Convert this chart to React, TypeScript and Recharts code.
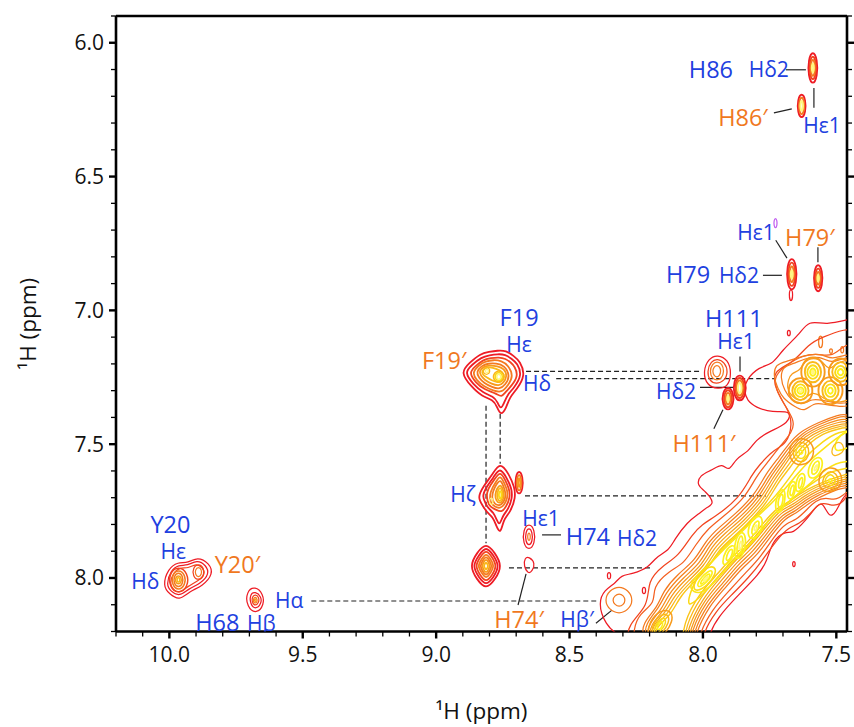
import { ScatterChart, Scatter, XAxis, YAxis, ReferenceLine } from 'recharts';

type Pt = [number, number];

const RED = '#ee1c25';
const RED2 = '#f2441f';
const ORANGE = '#f47a20';
const AMBER = '#f79a1c';
const GOLD = '#fab81a';
const YELLOW = '#fbd916';
const LEMON = '#fdf01c';
const PALE = '#fff680';
const PURPLE = '#c060f0';
const BLUE = '#2140e0';
const LABEL_ORANGE = '#f0781e';

const xTicks = [10.2, 10.1, 10.0, 9.9, 9.8, 9.7, 9.6, 9.5, 9.4, 9.3, 9.2, 9.1, 9.0, 8.9, 8.8, 8.7, 8.6, 8.5, 8.4, 8.3, 8.2, 8.1, 8.0, 7.9, 7.8, 7.7, 7.6, 7.5];
const yTicks = [5.9, 6.0, 6.1, 6.2, 6.3, 6.4, 6.5, 6.6, 6.7, 6.8, 6.9, 7.0, 7.1, 7.2, 7.3, 7.4, 7.5, 7.6, 7.7, 7.8, 7.9, 8.0, 8.1, 8.2];

// diagonal band, outermost level first
const bandOuter: Pt[] = [[8.3,8.24],[8.37,8.17],[8.392,8.092],[8.37,8.045],[8.325,8.018],[8.308,7.99],[8.264,7.985],[8.202,7.96],[8.177,7.922],[8.127,7.897],[8.108,7.858],[8.058,7.79],[8.015,7.76],[7.984,7.735],[7.955,7.722],[7.99,7.675],[8.023,7.655],[8.012,7.615],[7.965,7.597],[7.927,7.57],[7.902,7.605],[7.878,7.553],[7.828,7.528],[7.803,7.485],[7.753,7.453],[7.678,7.422],[7.668,7.372],[7.74,7.383],[7.803,7.362],[7.834,7.338],[7.846,7.3],[7.84,7.262],[7.79,7.21],[7.74,7.204],[7.703,7.148],[7.64,7.092],[7.603,7.035],[7.54,7.056],[7.44,7.03],[7.42,7.03],[7.42,7.68],[7.466,7.674],[7.503,7.761],[7.528,7.774],[7.553,7.711],[7.578,7.736],[7.615,7.786],[7.665,7.836],[7.69,7.824],[7.74,7.861],[7.759,7.936],[7.79,7.986],[7.865,8.061],[7.946,8.148],[7.977,8.211],[7.98,8.26]];
const band2: Pt[] = [[8.29,8.26],[8.283,8.173],[8.202,8.104],[8.208,8.011],[8.152,7.955],[8.09,7.917],[8.04,7.836],[8.002,7.799],[7.959,7.774],[7.865,7.705],[7.815,7.611],[7.79,7.58],[7.74,7.524],[7.684,7.499],[7.665,7.424],[7.678,7.374],[7.728,7.3],[7.74,7.225],[7.665,7.2],[7.603,7.125],[7.553,7.1],[7.466,7.069],[7.42,7.07],[7.42,7.66],[7.491,7.736],[7.528,7.724],[7.565,7.718],[7.597,7.761],[7.64,7.799],[7.678,7.811],[7.722,7.855],[7.778,7.936],[7.828,7.998],[7.89,8.061],[7.952,8.123],[8.002,8.211],[8.0,8.26]];
const band3: Pt[] = [[8.26,8.26],[8.26,8.19],[8.24,8.135],[8.177,8.092],[8.19,8.036],[8.127,7.973],[8.071,7.948],[8.027,7.874],[7.977,7.811],[7.927,7.774],[7.84,7.699],[7.803,7.624],[7.753,7.562],[7.715,7.512],[7.665,7.455],[7.653,7.412],[7.715,7.324],[7.74,7.25],[7.69,7.206],[7.628,7.168],[7.565,7.162],[7.516,7.175],[7.466,7.125],[7.42,7.125],[7.42,7.66],[7.466,7.68],[7.497,7.711],[7.54,7.699],[7.578,7.711],[7.609,7.743],[7.653,7.786],[7.684,7.792],[7.728,7.836],[7.784,7.923],[7.84,7.98],[7.902,8.048],[7.965,8.117],[8.015,8.211],[8.015,8.26]];
const band4: Pt[] = [[8.235,8.24],[8.225,8.165],[8.17,8.11],[8.15,8.05],[8.095,7.985],[8.03,7.936],[7.99,7.861],[7.94,7.811],[7.878,7.761],[7.803,7.686],[7.765,7.611],[7.715,7.549],[7.678,7.499],[7.64,7.455],[7.565,7.418],[7.503,7.393],[7.42,7.375],[7.42,7.665],[7.478,7.661],[7.522,7.68],[7.565,7.699],[7.609,7.724],[7.653,7.761],[7.69,7.774],[7.74,7.836],[7.803,7.923],[7.853,7.961],[7.915,8.036],[7.977,8.104],[8.03,8.211],[8.03,8.26]];
const band4b: Pt[] = [[8.225,8.24],[8.215,8.168],[8.165,8.113],[8.14,8.056],[8.085,7.993],[8.022,7.94],[7.982,7.868],[7.932,7.82],[7.87,7.766],[7.797,7.694],[7.757,7.62],[7.708,7.555],[7.672,7.505],[7.632,7.46],[7.562,7.425],[7.502,7.4],[7.42,7.385],[7.42,7.655],[7.477,7.653],[7.523,7.672],[7.567,7.69],[7.612,7.716],[7.656,7.753],[7.695,7.767],[7.745,7.828],[7.809,7.914],[7.859,7.953],[7.92,8.028],[7.983,8.097],[8.037,8.205],[8.037,8.26]];
const band5: Pt[] = [[8.215,8.24],[8.205,8.17],[8.155,8.12],[8.13,8.06],[8.075,8.0],[8.01,7.945],[7.975,7.875],[7.925,7.825],[7.862,7.775],[7.79,7.7],[7.75,7.625],[7.7,7.56],[7.665,7.51],[7.625,7.465],[7.56,7.432],[7.5,7.41],[7.42,7.395],[7.42,7.645],[7.475,7.645],[7.525,7.665],[7.57,7.683],[7.615,7.708],[7.66,7.745],[7.7,7.76],[7.75,7.82],[7.815,7.905],[7.865,7.945],[7.925,8.02],[7.99,8.09],[8.045,8.2],[8.045,8.26]];
const band5b: Pt[] = [[8.205,8.24],[8.197,8.172],[8.147,8.125],[8.12,8.065],[8.065,8.005],[8.002,7.95],[7.967,7.882],[7.917,7.832],[7.856,7.782],[7.782,7.705],[7.742,7.63],[7.695,7.567],[7.66,7.515],[7.62,7.472],[7.557,7.438],[7.5,7.42],[7.42,7.402],[7.42,7.635],[7.473,7.637],[7.527,7.657],[7.572,7.675],[7.617,7.7],[7.664,7.737],[7.705,7.752],[7.755,7.812],[7.82,7.895],[7.87,7.937],[7.932,8.012],[7.995,8.082],[8.052,8.195],[8.052,8.26]];
const band6: Pt[] = [[8.195,8.24],[8.19,8.175],[8.14,8.13],[8.11,8.07],[8.055,8.01],[7.995,7.955],[7.96,7.89],[7.91,7.84],[7.85,7.79],[7.775,7.71],[7.735,7.635],[7.69,7.575],[7.655,7.52],[7.615,7.48],[7.555,7.445],[7.5,7.43],[7.42,7.41],[7.42,7.625],[7.472,7.63],[7.53,7.65],[7.575,7.668],[7.62,7.693],[7.668,7.73],[7.71,7.745],[7.76,7.805],[7.825,7.885],[7.875,7.93],[7.94,8.005],[8.0,8.075],[8.06,8.19],[8.06,8.26]];
const band6b: Pt[] = [[8.187,8.24],[8.185,8.18],[8.13,8.135],[8.1,8.072],[8.047,8.015],[7.987,7.96],[7.952,7.895],[7.902,7.847],[7.845,7.797],[7.767,7.715],[7.727,7.64],[7.682,7.582],[7.647,7.53],[7.607,7.487],[7.552,7.452],[7.5,7.437],[7.42,7.417],[7.42,7.612],[7.471,7.622],[7.532,7.642],[7.577,7.661],[7.625,7.686],[7.671,7.722],[7.715,7.74],[7.765,7.797],[7.83,7.877],[7.88,7.922],[7.945,7.997],[8.007,8.067],[8.067,8.18],[8.067,8.26]];
const band7: Pt[] = [[8.18,8.24],[8.18,8.185],[8.12,8.14],[8.09,8.075],[8.04,8.02],[7.98,7.965],[7.945,7.9],[7.895,7.855],[7.84,7.805],[7.76,7.72],[7.72,7.645],[7.675,7.59],[7.64,7.54],[7.6,7.495],[7.55,7.46],[7.5,7.445],[7.42,7.425],[7.42,7.6],[7.47,7.615],[7.535,7.635],[7.58,7.655],[7.63,7.68],[7.675,7.715],[7.72,7.735],[7.77,7.79],[7.835,7.87],[7.885,7.915],[7.95,7.99],[8.015,8.06],[8.075,8.17],[8.075,8.26]];
const band7b: Pt[] = [[8.065,8.11],[8.03,8.0],[7.972,7.952],[7.935,7.897],[7.885,7.852],[7.83,7.797],[7.75,7.72],[7.697,7.655],[7.657,7.6],[7.62,7.55],[7.545,7.485],[7.495,7.455],[7.42,7.44],[7.42,7.585],[7.465,7.59],[7.515,7.6],[7.56,7.625],[7.61,7.66],[7.66,7.7],[7.705,7.735],[7.75,7.775],[7.8,7.855],[7.86,7.91],[7.91,7.96],[7.975,8.035],[8.03,8.09]];
const band8: Pt[] = [[8.06,8.04],[8.02,7.985],[7.965,7.94],[7.925,7.895],[7.875,7.85],[7.82,7.79],[7.74,7.72],[7.69,7.665],[7.645,7.61],[7.6,7.56],[7.54,7.51],[7.49,7.47],[7.42,7.43],[7.42,7.56],[7.46,7.565],[7.5,7.57],[7.55,7.6],[7.6,7.65],[7.65,7.69],[7.695,7.735],[7.74,7.76],[7.79,7.84],[7.85,7.9],[7.9,7.95],[7.96,8.02],[8.01,8.065]];

// cores along the ridge
const coreA: Pt[][] = [
  [[8.21,8.22],[8.2,8.16],[8.16,8.12],[8.12,8.12],[8.11,8.16],[8.15,8.22],[8.19,8.24]],
  [[8.195,8.21],[8.185,8.165],[8.155,8.135],[8.13,8.135],[8.125,8.165],[8.155,8.21],[8.18,8.225]],
  [[8.185,8.2],[8.175,8.17],[8.155,8.15],[8.14,8.15],[8.14,8.175],[8.16,8.2],[8.175,8.21]],
  [[8.175,8.19],[8.167,8.17],[8.155,8.16],[8.15,8.165],[8.152,8.18],[8.163,8.195]],
];
const coreB: Pt[][] = [
  [[8.04,8.04],[8.02,7.99],[7.985,7.96],[7.955,7.955],[7.95,7.985],[7.985,8.03],[8.02,8.05]],
  [[8.025,8.03],[8.005,7.995],[7.98,7.975],[7.965,7.97],[7.965,7.99],[7.985,8.015],[8.01,8.035]],
  [[8.012,8.02],[7.995,7.998],[7.98,7.985],[7.973,7.985],[7.975,7.998],[7.99,8.01],[8.005,8.025]],
  [[8.0,8.01],[7.99,7.998],[7.982,7.992],[7.98,7.998],[7.987,8.005],[7.995,8.014]],
];
const coreC: Pt[][] = [
  [[7.93,7.945],[7.915,7.895],[7.89,7.875],[7.875,7.885],[7.89,7.93],[7.915,7.955]],
  [[7.915,7.93],[7.905,7.9],[7.892,7.89],[7.887,7.9],[7.895,7.925],[7.908,7.938]],
];
const coreD: Pt[][] = [
  [[7.885,7.925],[7.88,7.86],[7.86,7.825],[7.84,7.835],[7.84,7.89],[7.86,7.93]],
  [[7.875,7.91],[7.87,7.865],[7.86,7.84],[7.85,7.845],[7.85,7.885],[7.862,7.915]],
  [[7.866,7.89],[7.862,7.87],[7.857,7.86],[7.853,7.868],[7.855,7.885],[7.862,7.895]],
];
const coreE: Pt[][] = [
  [[7.835,7.85],[7.825,7.79],[7.795,7.765],[7.775,7.775],[7.78,7.825],[7.805,7.855]],
  [[7.82,7.835],[7.812,7.8],[7.795,7.785],[7.788,7.79],[7.792,7.82],[7.808,7.84]],
  [[7.81,7.822],[7.805,7.805],[7.797,7.8],[7.797,7.812],[7.802,7.825]],
];
const coreF: Pt[][] = [
  [[7.73,7.75],[7.725,7.695],[7.705,7.665],[7.69,7.675],[7.695,7.73],[7.712,7.76]],
  [[7.72,7.73],[7.716,7.7],[7.705,7.685],[7.698,7.69],[7.702,7.725],[7.712,7.74]],
];
const coreG: Pt[][] = [
  [[7.685,7.7],[7.68,7.66],[7.665,7.635],[7.65,7.645],[7.655,7.68],[7.668,7.71]],
  [[7.675,7.69],[7.672,7.665],[7.662,7.65],[7.657,7.655],[7.66,7.68],[7.668,7.695]],
];
const coreH: Pt[][] = [
  [[7.655,7.675],[7.65,7.63],[7.63,7.605],[7.615,7.615],[7.62,7.655],[7.638,7.68]],
  [[7.643,7.662],[7.64,7.635],[7.63,7.622],[7.625,7.628],[7.628,7.65],[7.636,7.668]],
];
const coreI: Pt[][] = [
  [[7.61,7.625],[7.6,7.57],[7.57,7.545],[7.55,7.555],[7.555,7.6],[7.58,7.63]],
  [[7.595,7.61],[7.588,7.575],[7.57,7.56],[7.562,7.568],[7.568,7.6],[7.582,7.615]],
  [[7.585,7.6],[7.58,7.585],[7.572,7.575],[7.57,7.582],[7.575,7.598]],
];
const coreJ: Pt[] = [[7.51,7.53],[7.5,7.48],[7.47,7.455],[7.43,7.44],[7.43,7.5],[7.47,7.52]];

// off-ridge peaks inside the band
const peakP: Pt[][] = [
  [[7.68,7.53],[7.665,7.49],[7.63,7.475],[7.595,7.49],[7.58,7.53],[7.6,7.57],[7.635,7.58],[7.665,7.57]],
  [[7.665,7.53],[7.652,7.5],[7.63,7.49],[7.61,7.5],[7.6,7.53],[7.612,7.56],[7.632,7.568],[7.655,7.56]],
  [[7.655,7.53],[7.645,7.51],[7.632,7.505],[7.62,7.51],[7.612,7.53],[7.62,7.55],[7.632,7.555],[7.645,7.55]],
  [[7.642,7.53],[7.636,7.522],[7.63,7.522],[7.624,7.53],[7.63,7.538],[7.636,7.538]],
];
const peakQ: Pt[][] = [
  [[7.57,7.64],[7.555,7.6],[7.525,7.585],[7.49,7.595],[7.475,7.635],[7.49,7.665],[7.525,7.68],[7.555,7.675]],
  [[7.555,7.64],[7.54,7.61],[7.522,7.6],[7.5,7.61],[7.49,7.636],[7.5,7.66],[7.522,7.668],[7.545,7.66]],
  [[7.545,7.636],[7.535,7.62],[7.522,7.612],[7.51,7.62],[7.502,7.636],[7.51,7.65],[7.522,7.656],[7.535,7.65]],
  [[7.53,7.636],[7.526,7.63],[7.52,7.63],[7.515,7.636],[7.52,7.643],[7.526,7.643]],
];
const peakS: Pt[] = [[7.52,7.53],[7.51,7.5],[7.49,7.49],[7.475,7.5],[7.47,7.525],[7.49,7.54],[7.51,7.545]];

// upper right island with four strong peaks
const island: Pt[][] = [
  [[7.735,7.25],[7.73,7.2],[7.68,7.19],[7.62,7.168],[7.56,7.16],[7.515,7.185],[7.47,7.165],[7.42,7.165],[7.42,7.36],[7.49,7.36],[7.55,7.35],[7.585,7.345],[7.62,7.38],[7.655,7.36],[7.7,7.33],[7.72,7.29]],
  [[7.71,7.25],[7.7,7.21],[7.66,7.2],[7.62,7.18],[7.56,7.17],[7.52,7.2],[7.47,7.175],[7.42,7.175],[7.42,7.345],[7.49,7.35],[7.555,7.335],[7.59,7.33],[7.63,7.355],[7.665,7.34],[7.695,7.3]],
  [[7.68,7.26],[7.67,7.235],[7.635,7.225],[7.62,7.19],[7.585,7.175],[7.55,7.19],[7.53,7.225],[7.5,7.2],[7.47,7.185],[7.42,7.185],[7.42,7.33],[7.49,7.345],[7.53,7.34],[7.56,7.32],[7.59,7.3],[7.63,7.345],[7.67,7.32],[7.685,7.29]],
];
const islandP1: Pt[][] = [
  [[7.685,7.3],[7.665,7.26],[7.635,7.25],[7.6,7.26],[7.585,7.3],[7.6,7.34],[7.635,7.35],[7.665,7.34]],
  [[7.67,7.3],[7.655,7.27],[7.635,7.262],[7.612,7.27],[7.6,7.3],[7.612,7.33],[7.635,7.338],[7.655,7.33]],
  [[7.66,7.3],[7.648,7.28],[7.635,7.275],[7.62,7.28],[7.612,7.3],[7.62,7.32],[7.635,7.325],[7.648,7.32]],
  [[7.648,7.3],[7.642,7.29],[7.634,7.287],[7.626,7.29],[7.622,7.3],[7.626,7.31],[7.634,7.313],[7.642,7.31]],
  [[7.64,7.3],[7.637,7.295],[7.634,7.294],[7.631,7.295],[7.628,7.3],[7.631,7.305],[7.634,7.306],[7.637,7.305]],
];
const islandP2: Pt[][] = [
  [[7.637,7.231],[7.62,7.185],[7.588,7.172],[7.555,7.185],[7.538,7.231],[7.555,7.275],[7.588,7.29],[7.62,7.275]],
  [[7.622,7.231],[7.61,7.198],[7.588,7.19],[7.567,7.198],[7.553,7.231],[7.565,7.262],[7.588,7.272],[7.61,7.262]],
  [[7.612,7.231],[7.602,7.21],[7.588,7.203],[7.574,7.21],[7.565,7.231],[7.574,7.252],[7.588,7.258],[7.602,7.252]],
  [[7.6,7.231],[7.595,7.22],[7.588,7.216],[7.581,7.22],[7.576,7.231],[7.581,7.242],[7.588,7.246],[7.595,7.242]],
  [[7.593,7.231],[7.59,7.226],[7.588,7.225],[7.585,7.226],[7.583,7.231],[7.585,7.236],[7.588,7.238],[7.59,7.236]],
];
const islandP3: Pt[][] = [
  [[7.573,7.3],[7.555,7.258],[7.522,7.245],[7.49,7.258],[7.47,7.3],[7.49,7.342],[7.522,7.355],[7.555,7.342]],
  [[7.556,7.3],[7.545,7.27],[7.522,7.26],[7.5,7.27],[7.487,7.3],[7.5,7.33],[7.522,7.34],[7.545,7.33]],
  [[7.545,7.3],[7.536,7.28],[7.522,7.275],[7.508,7.28],[7.5,7.3],[7.508,7.32],[7.522,7.325],[7.536,7.32]],
  [[7.533,7.3],[7.528,7.29],[7.522,7.288],[7.516,7.29],[7.512,7.3],[7.516,7.31],[7.522,7.312],[7.528,7.31]],
];
const islandP4: Pt[][] = [
  [[7.535,7.231],[7.515,7.19],[7.484,7.175],[7.45,7.19],[7.435,7.231],[7.45,7.27],[7.484,7.285],[7.515,7.27]],
  [[7.52,7.231],[7.506,7.2],[7.484,7.19],[7.462,7.2],[7.45,7.231],[7.462,7.26],[7.484,7.27],[7.506,7.26]],
  [[7.508,7.231],[7.498,7.212],[7.484,7.205],[7.47,7.212],[7.462,7.231],[7.47,7.25],[7.484,7.256],[7.498,7.25]],
  [[7.497,7.231],[7.491,7.222],[7.484,7.218],[7.477,7.222],[7.472,7.231],[7.477,7.24],[7.484,7.244],[7.491,7.24]],
];

// isolated peaks
const h86: Pt[][] = [
  [[7.588,6.028],[7.571,6.061],[7.571,6.127],[7.588,6.16],[7.605,6.127],[7.605,6.061]],
  [[7.588,6.044],[7.576,6.069],[7.576,6.119],[7.588,6.144],[7.6,6.119],[7.6,6.069]],
  [[7.588,6.059],[7.58,6.076],[7.58,6.112],[7.588,6.129],[7.596,6.112],[7.596,6.076]],
  [[7.588,6.074],[7.584,6.084],[7.584,6.104],[7.588,6.114],[7.592,6.104],[7.592,6.084]],
];
const h86p: Pt[][] = [
  [[7.63,6.186],[7.615,6.211],[7.615,6.261],[7.63,6.286],[7.645,6.261],[7.645,6.211]],
  [[7.63,6.199],[7.62,6.218],[7.62,6.254],[7.63,6.273],[7.64,6.254],[7.64,6.218]],
  [[7.63,6.214],[7.625,6.225],[7.625,6.247],[7.63,6.258],[7.635,6.247],[7.635,6.225]],
];
const h79: Pt[][] = [
  [[7.667,6.797],[7.649,6.831],[7.649,6.899],[7.667,6.933],[7.685,6.899],[7.685,6.831]],
  [[7.667,6.813],[7.654,6.839],[7.654,6.891],[7.667,6.917],[7.68,6.891],[7.68,6.839]],
  [[7.667,6.83],[7.659,6.848],[7.659,6.882],[7.667,6.9],[7.675,6.882],[7.675,6.848]],
  [[7.667,6.847],[7.663,6.856],[7.663,6.874],[7.667,6.883],[7.671,6.874],[7.671,6.856]],
];
const h79Tail: Pt[] = [[7.67,6.915],[7.661,6.94],[7.67,6.975],[7.679,6.94]];
const h79p: Pt[][] = [
  [[7.568,6.822],[7.552,6.851],[7.552,6.909],[7.568,6.938],[7.584,6.909],[7.584,6.851]],
  [[7.568,6.837],[7.557,6.858],[7.557,6.902],[7.568,6.923],[7.579,6.902],[7.579,6.858]],
  [[7.568,6.852],[7.561,6.866],[7.561,6.894],[7.568,6.908],[7.575,6.894],[7.575,6.866]],
  [[7.568,6.865],[7.565,6.872],[7.565,6.888],[7.568,6.895],[7.571,6.888],[7.571,6.872]],
];
const purpleSpot: Pt[] = [[7.728,6.654],[7.722,6.664],[7.722,6.684],[7.728,6.694],[7.734,6.684],[7.734,6.664]];
const h111: Pt[][] = [
  [[7.862,7.235],[7.839,7.262],[7.839,7.318],[7.862,7.345],[7.885,7.318],[7.885,7.262]],
  [[7.862,7.245],[7.845,7.268],[7.845,7.312],[7.862,7.335],[7.879,7.312],[7.879,7.268]],
  [[7.862,7.256],[7.85,7.273],[7.85,7.307],[7.862,7.324],[7.874,7.307],[7.874,7.273]],
  [[7.862,7.268],[7.855,7.279],[7.855,7.301],[7.862,7.312],[7.869,7.301],[7.869,7.279]],
];
const h111p: Pt[][] = [
  [[7.906,7.282],[7.885,7.306],[7.885,7.354],[7.906,7.378],[7.927,7.354],[7.927,7.306]],
  [[7.906,7.292],[7.891,7.311],[7.891,7.349],[7.906,7.368],[7.921,7.349],[7.921,7.311]],
  [[7.906,7.304],[7.897,7.317],[7.897,7.343],[7.906,7.356],[7.915,7.343],[7.915,7.317]],
  [[7.906,7.316],[7.903,7.323],[7.903,7.337],[7.906,7.344],[7.909,7.337],[7.909,7.323]],
];
const h111Side: Pt[][] = [
  [[8.0,7.23],[7.98,7.18],[7.945,7.165],[7.905,7.185],[7.893,7.235],[7.905,7.285],[7.945,7.295],[7.985,7.28]],
  [[7.985,7.228],[7.97,7.19],[7.945,7.18],[7.918,7.195],[7.905,7.23],[7.92,7.265],[7.95,7.275],[7.975,7.265]],
  [[7.975,7.228],[7.965,7.2],[7.947,7.19],[7.928,7.2],[7.92,7.228],[7.93,7.255],[7.948,7.262],[7.966,7.255]],
  [[7.965,7.228],[7.958,7.21],[7.948,7.205],[7.937,7.21],[7.932,7.228],[7.938,7.245],[7.948,7.25],[7.958,7.245]],
];
const f19: Pt[][] = [
  [[8.91,7.232],[8.875,7.196],[8.835,7.162],[8.802,7.155],[8.77,7.15],[8.738,7.15],[8.71,7.17],[8.685,7.19],[8.665,7.243],[8.698,7.296],[8.725,7.325],[8.737,7.365],[8.758,7.395],[8.773,7.358],[8.785,7.335],[8.828,7.322],[8.868,7.285]],
  [[8.895,7.232],[8.865,7.203],[8.83,7.175],[8.8,7.168],[8.77,7.163],[8.74,7.165],[8.718,7.18],[8.695,7.198],[8.678,7.243],[8.708,7.29],[8.733,7.315],[8.745,7.345],[8.758,7.372],[8.77,7.342],[8.785,7.322],[8.825,7.308],[8.86,7.277]],
  [[8.878,7.232],[8.852,7.208],[8.825,7.185],[8.795,7.178],[8.765,7.175],[8.74,7.18],[8.72,7.195],[8.705,7.21],[8.692,7.245],[8.718,7.283],[8.74,7.305],[8.755,7.325],[8.775,7.31],[8.82,7.296],[8.852,7.27]],
  [[8.865,7.232],[8.84,7.205],[8.815,7.19],[8.785,7.185],[8.755,7.188],[8.73,7.205],[8.71,7.245],[8.73,7.28],[8.755,7.308],[8.785,7.3],[8.82,7.285],[8.85,7.26]],
  [[8.85,7.23],[8.83,7.207],[8.805,7.198],[8.775,7.198],[8.745,7.205],[8.722,7.245],[8.74,7.278],[8.762,7.295],[8.79,7.287],[8.82,7.272],[8.84,7.252]],
  [[8.84,7.228],[8.822,7.21],[8.8,7.205],[8.77,7.208],[8.745,7.218],[8.733,7.245],[8.748,7.272],[8.765,7.282],[8.792,7.275],[8.818,7.26],[8.832,7.245]],
  [[8.83,7.228],[8.815,7.214],[8.8,7.212],[8.775,7.218],[8.752,7.228],[8.742,7.248],[8.755,7.265],[8.768,7.27],[8.792,7.262],[8.812,7.25],[8.825,7.24]],
];
const f19Left: Pt[][] = [
  [[8.825,7.226],[8.815,7.212],[8.802,7.214],[8.797,7.228],[8.806,7.24],[8.82,7.238]],
  [[8.816,7.226],[8.811,7.22],[8.805,7.221],[8.803,7.228],[8.808,7.233],[8.814,7.232]],
];
const f19Right: Pt[][] = [
  [[8.79,7.248],[8.775,7.226],[8.755,7.226],[8.742,7.248],[8.755,7.268],[8.775,7.268]],
  [[8.782,7.248],[8.772,7.232],[8.758,7.232],[8.749,7.248],[8.758,7.262],[8.772,7.262]],
  [[8.775,7.248],[8.769,7.238],[8.761,7.238],[8.756,7.248],[8.761,7.258],[8.769,7.258]],
];
const zeta: Pt[][] = [
  [[8.761,7.565],[8.728,7.61],[8.706,7.66],[8.702,7.7],[8.722,7.755],[8.748,7.78],[8.758,7.838],[8.775,7.805],[8.787,7.772],[8.81,7.755],[8.825,7.73],[8.845,7.7],[8.825,7.66],[8.79,7.615]],
  [[8.761,7.585],[8.736,7.625],[8.717,7.665],[8.714,7.7],[8.73,7.745],[8.75,7.765],[8.762,7.805],[8.772,7.785],[8.785,7.755],[8.805,7.74],[8.815,7.72],[8.828,7.695],[8.812,7.66],[8.785,7.625]],
  [[8.76,7.6],[8.74,7.635],[8.725,7.67],[8.723,7.7],[8.738,7.735],[8.755,7.755],[8.775,7.745],[8.797,7.735],[8.808,7.715],[8.812,7.68],[8.795,7.65],[8.78,7.63]],
  [[8.76,7.615],[8.745,7.645],[8.732,7.675],[8.732,7.7],[8.745,7.728],[8.76,7.74],[8.78,7.735],[8.797,7.718],[8.8,7.69],[8.788,7.66],[8.775,7.64]],
  [[8.76,7.632],[8.748,7.655],[8.74,7.68],[8.74,7.7],[8.75,7.72],[8.762,7.73],[8.78,7.725],[8.79,7.708],[8.79,7.685],[8.78,7.66],[8.772,7.648]],
  [[8.76,7.65],[8.75,7.665],[8.745,7.69],[8.75,7.712],[8.762,7.722],[8.775,7.712],[8.78,7.69],[8.772,7.665]],
  [[8.76,7.66],[8.752,7.675],[8.75,7.692],[8.755,7.708],[8.762,7.714],[8.77,7.705],[8.772,7.69],[8.768,7.672]],
  [[8.76,7.672],[8.755,7.682],[8.755,7.698],[8.76,7.706],[8.765,7.698],[8.765,7.682]],
];
const zetaLeft: Pt[] = [[8.793,7.7],[8.787,7.705],[8.787,7.72],[8.793,7.728],[8.8,7.72],[8.8,7.705]];
const zetaSide: Pt[][] = [
  [[8.689,7.596],[8.675,7.62],[8.675,7.668],[8.689,7.692],[8.703,7.668],[8.703,7.62]],
  [[8.689,7.61],[8.68,7.627],[8.68,7.661],[8.689,7.678],[8.698,7.661],[8.698,7.627]],
  [[8.689,7.624],[8.685,7.634],[8.685,7.654],[8.689,7.664],[8.693,7.654],[8.693,7.634]],
];
const diamond: Pt[][] = [
  [[8.813,7.868],[8.78,7.905],[8.752,7.955],[8.778,8.005],[8.813,8.045],[8.848,8.005],[8.875,7.955],[8.847,7.905]],
  [[8.813,7.88],[8.785,7.915],[8.762,7.955],[8.785,7.998],[8.813,8.03],[8.84,7.998],[8.865,7.955],[8.84,7.915]],
  [[8.813,7.893],[8.79,7.922],[8.772,7.955],[8.79,7.99],[8.813,8.017],[8.835,7.99],[8.855,7.955],[8.835,7.922]],
  [[8.813,7.905],[8.795,7.93],[8.782,7.955],[8.795,7.98],[8.813,8.005],[8.83,7.98],[8.845,7.955],[8.83,7.93]],
  [[8.813,7.917],[8.8,7.935],[8.79,7.955],[8.8,7.975],[8.813,7.993],[8.826,7.975],[8.836,7.955],[8.826,7.935]],
  [[8.813,7.928],[8.804,7.94],[8.798,7.955],[8.804,7.97],[8.813,7.982],[8.822,7.97],[8.828,7.955],[8.822,7.94]],
  [[8.813,7.94],[8.808,7.948],[8.805,7.955],[8.808,7.962],[8.813,7.97],[8.818,7.962],[8.821,7.955],[8.818,7.948]],
];
const h74: Pt[][] = [
  [[8.652,7.794],[8.63,7.82],[8.63,7.872],[8.652,7.898],[8.674,7.872],[8.674,7.82]],
  [[8.652,7.811],[8.639,7.828],[8.639,7.864],[8.652,7.881],[8.665,7.864],[8.665,7.828]],
  [[8.652,7.83],[8.647,7.838],[8.647,7.854],[8.652,7.862],[8.657,7.854],[8.657,7.838]],
];
const h74p: Pt[] = [[8.652,7.92],[8.628,7.945],[8.64,7.975],[8.655,7.985],[8.672,7.955],[8.668,7.925]];
const h68: Pt[][] = [
  [[9.678,8.03],[9.648,8.06],[9.645,8.1],[9.672,8.135],[9.71,8.11],[9.712,8.05]],
  [[9.678,8.05],[9.655,8.07],[9.655,8.095],[9.675,8.118],[9.697,8.1],[9.698,8.06]],
  [[9.678,8.06],[9.664,8.072],[9.664,8.092],[9.678,8.105],[9.69,8.092],[9.69,8.07]],
  [[9.678,8.07],[9.671,8.077],[9.671,8.09],[9.678,8.095],[9.685,8.09],[9.685,8.077]],
  [[9.678,8.077],[9.675,8.08],[9.675,8.086],[9.678,8.089],[9.681,8.086],[9.681,8.08]],
];
const y20Outer: Pt[][] = [
  [[10.025,8.03],[10.005,7.965],[9.968,7.94],[9.93,7.945],[9.895,7.92],[9.85,7.945],[9.835,7.985],[9.875,8.03],[9.925,8.05],[9.962,8.085],[10.0,8.06]],
  [[10.012,8.025],[9.995,7.972],[9.965,7.95],[9.932,7.955],[9.897,7.932],[9.862,7.952],[9.85,7.985],[9.882,8.02],[9.928,8.04],[9.962,8.07],[9.995,8.05]],
  [[10.0,8.02],[9.985,7.98],[9.96,7.96],[9.93,7.965],[9.9,7.945],[9.875,7.96],[9.865,7.985],[9.89,8.01],[9.93,8.03],[9.962,8.058],[9.985,8.045]],
];
const y20Left: Pt[][] = [
  [[9.966,7.955],[9.93,7.98],[9.93,8.035],[9.966,8.06],[10.0,8.035],[10.0,7.98]],
  [[9.966,7.967],[9.94,7.987],[9.94,8.027],[9.966,8.048],[9.99,8.027],[9.99,7.987]],
  [[9.966,7.978],[9.949,7.992],[9.949,8.022],[9.966,8.037],[9.983,8.022],[9.983,7.992]],
  [[9.966,7.99],[9.955,7.998],[9.955,8.016],[9.966,8.025],[9.977,8.016],[9.977,7.998]],
  [[9.966,7.997],[9.961,8.002],[9.961,8.012],[9.966,8.017],[9.971,8.012],[9.971,8.002]],
];
const y20Right: Pt[][] = [
  [[9.891,7.946],[9.87,7.962],[9.87,7.994],[9.891,8.01],[9.912,7.994],[9.912,7.962]],
  [[9.891,7.958],[9.879,7.968],[9.879,7.988],[9.891,7.998],[9.903,7.988],[9.903,7.968]],
];
const hBetaPrime: Pt[][] = [
  [[8.37,8.083],[8.35,8.045],[8.314,8.03],[8.28,8.045],[8.26,8.083],[8.28,8.12],[8.314,8.135],[8.35,8.12]],
  [[8.34,8.083],[8.33,8.065],[8.314,8.058],[8.298,8.065],[8.29,8.083],[8.298,8.1],[8.314,8.108],[8.33,8.1]],
];
const specks: Pt[][] = [
  [[8.352,7.975],[8.343,7.99],[8.352,8.01],[8.361,7.99]],
  [[8.221,8.03],[8.212,8.046],[8.221,8.064],[8.23,8.046]],
  [[7.659,7.935],[7.652,7.948],[7.659,7.962],[7.666,7.948]],
  [[7.678,7.07],[7.67,7.084],[7.678,7.1],[7.686,7.084]],
];
const specksOrange: Pt[][] = [
  [[7.559,7.085],[7.548,7.118],[7.559,7.15],[7.57,7.118]],
  [[7.52,7.14],[7.512,7.152],[7.52,7.165],[7.528,7.152]],
  [[7.478,7.13],[7.47,7.147],[7.478,7.165],[7.486,7.147]],
];

const densePalette = [RED, RED, RED2, ORANGE, ORANGE, AMBER, GOLD, YELLOW];
const narrowPalette = [RED, RED2, ORANGE, PALE];

const pick = (rings: Pt[][], colors: string[], width = 1.25) =>
  rings.map((pts, i) => ({ pts, color: colors[Math.min(i, colors.length - 1)], width }));
const one = (pts: Pt[], color: string, width = 1.25) => ({ pts, color, width });

const contours = [
  one(bandOuter, RED),
  ...specks.map((pts) => one(pts, RED)),
  ...specksOrange.map((pts) => one(pts, ORANGE)),
  one(band2, RED2),
  one(band3, '#f45f20'),
  ...pick(island, [ORANGE, ORANGE, AMBER]),
  one(band4, ORANGE),
  one(band4b, '#f5821e'),
  one(band5, '#f58c1e'),
  one(band5b, AMBER),
  one(band6, '#f8a61b'),
  one(band6b, GOLD),
  one(band7, '#fbc418', 1.4),
  one(band7b, YELLOW, 1.5),
  one(band8, '#fce418', 1.6),
  ...pick(coreA, [AMBER, GOLD, YELLOW, LEMON], 1.5),
  ...pick(coreB, [YELLOW, LEMON, LEMON, PALE], 1.6),
  ...[coreC, coreD, coreE, coreF, coreG, coreH, coreI].flatMap((c) => pick(c, [LEMON, LEMON, PALE], 1.7)),
  one(coreJ, LEMON, 1.7),
  ...pick(peakP, [AMBER, GOLD, YELLOW, LEMON], 1.5),
  ...pick(peakQ, [AMBER, GOLD, YELLOW, LEMON], 1.5),
  one(peakS, GOLD),
  ...[islandP1, islandP2, islandP3, islandP4].flatMap((c) => pick(c, [AMBER, GOLD, YELLOW, LEMON, PALE], 1.9)),
  ...[h86, h79, h79p, h111, h111p].flatMap((c) => pick(c, narrowPalette, 1.9)),
  ...pick(h86p, [RED, ORANGE, PALE], 1.9),
  one(h79Tail, RED),
  one(purpleSpot, PURPLE),
  ...pick(h111Side, [RED, RED2, ORANGE, ORANGE]),
  ...pick(f19, densePalette, 1.8),
  ...pick(f19Left, [GOLD, PALE]),
  ...pick(f19Right, [GOLD, YELLOW, PALE], 1.6),
  ...pick(zeta, densePalette, 1.8),
  one(zetaLeft, PALE),
  ...pick(zetaSide, [RED, ORANGE, AMBER], 1.8),
  ...pick(diamond, densePalette, 1.8),
  ...pick(h74, [RED, RED, ORANGE]),
  one(h74p, RED),
  ...pick(h68, [RED, RED, RED2, ORANGE, AMBER]),
  ...pick(y20Outer, [RED, RED, RED2]),
  ...pick(y20Left, [RED2, ORANGE, ORANGE, AMBER, GOLD], 1.5),
  ...pick(y20Right, [RED2, ORANGE]),
  ...pick(hBetaPrime, [ORANGE, ORANGE]),
];

const labels = [
  { text: 'H86', x: 7.97, y: 6.097, color: BLUE, size: 23.5 },
  { text: 'Hδ2', x: 7.753, y: 6.097, color: BLUE, size: 21 },
  { text: 'H86′', x: 7.85, y: 6.277, color: LABEL_ORANGE, size: 23.5 },
  { text: 'Hε1', x: 7.554, y: 6.307, color: BLUE, size: 21 },
  { text: 'Hε1', x: 7.801, y: 6.708, color: BLUE, size: 21 },
  { text: 'H79′', x: 7.599, y: 6.727, color: LABEL_ORANGE, size: 23.5 },
  { text: 'H79', x: 8.056, y: 6.865, color: BLUE, size: 23.5 },
  { text: 'Hδ2', x: 7.865, y: 6.869, color: BLUE, size: 21 },
  { text: 'F19', x: 8.689, y: 7.026, color: BLUE, size: 23.5 },
  { text: 'Hε', x: 8.689, y: 7.124, color: BLUE, size: 21 },
  { text: 'F19′', x: 8.97, y: 7.184, color: LABEL_ORANGE, size: 23.5 },
  { text: 'Hδ', x: 8.622, y: 7.273, color: BLUE, size: 21 },
  { text: 'H111', x: 7.884, y: 7.03, color: BLUE, size: 23.5 },
  { text: 'Hε1', x: 7.876, y: 7.116, color: BLUE, size: 21 },
  { text: 'Hδ2', x: 8.101, y: 7.3, color: BLUE, size: 21 },
  { text: 'H111′', x: 7.996, y: 7.494, color: LABEL_ORANGE, size: 23.5 },
  { text: 'Hζ', x: 8.899, y: 7.685, color: BLUE, size: 21 },
  { text: 'Hε1', x: 8.607, y: 7.775, color: BLUE, size: 21 },
  { text: 'H74', x: 8.431, y: 7.843, color: BLUE, size: 23.5 },
  { text: 'Hδ2', x: 8.247, y: 7.85, color: BLUE, size: 21 },
  { text: 'Y20', x: 9.996, y: 7.798, color: BLUE, size: 23.5 },
  { text: 'Hε', x: 9.985, y: 7.899, color: BLUE, size: 21 },
  { text: 'Y20′', x: 9.745, y: 7.948, color: LABEL_ORANGE, size: 23.5 },
  { text: 'Hδ', x: 10.09, y: 8.011, color: BLUE, size: 21 },
  { text: 'Hα', x: 9.551, y: 8.082, color: BLUE, size: 21 },
  { text: 'H68', x: 9.82, y: 8.165, color: BLUE, size: 23.5 },
  { text: 'Hβ', x: 9.655, y: 8.169, color: BLUE, size: 21 },
  { text: 'H74′', x: 8.689, y: 8.154, color: LABEL_ORANGE, size: 23.5 },
  { text: 'Hβ′', x: 8.472, y: 8.154, color: BLUE, size: 21 },
];

// [x1, y1, x2, y2]
const dashedLinks = [
  [8.663, 7.228, 8.004, 7.228],
  [8.55, 7.255, 7.734, 7.255],
  [8.667, 7.693, 7.764, 7.693],
  [8.727, 7.962, 8.191, 7.962],
  [9.468, 8.086, 8.4, 8.086],
  [8.813, 7.356, 8.813, 7.87],
  [8.76, 7.386, 8.76, 7.573],
];
const leaders = [
  [7.689, 6.101, 7.614, 6.101],
  [7.584, 6.169, 7.584, 6.243],
  [7.734, 6.262, 7.667, 6.247],
  [7.727, 6.738, 7.685, 6.805],
  [7.569, 6.764, 7.569, 6.82],
  [7.775, 6.869, 7.704, 6.869],
  [7.861, 7.172, 7.861, 7.228],
  [8.011, 7.288, 7.884, 7.288],
  [7.925, 7.371, 7.959, 7.442],
  [8.603, 7.839, 8.532, 7.839],
  [8.663, 7.985, 8.693, 8.101],
  [8.341, 8.12, 8.401, 8.169],
];

const FONT = '"Open Sans", sans-serif';
const isMajor = (v: number) => Math.round(v * 10) % 5 === 0;

const tickMark = (side: 'left' | 'right' | 'top' | 'bottom', showLabel: boolean) => (props: any) => {
  const { x, y, payload } = props;
  const major = isMajor(payload.value);
  const len = major ? 7 : 5;
  const horizontal = side === 'left' || side === 'right';
  const dir = side === 'left' || side === 'top' ? -1 : 1;
  return (
    <g>
      <line
        x1={x}
        y1={y}
        x2={horizontal ? x + dir * len : x}
        y2={horizontal ? y : y + dir * len}
        stroke="#000"
        strokeWidth={major ? 2.4 : 1.3}
      />
      {showLabel && major && (
        <text
          x={side === 'left' ? x - 12 : x}
          y={side === 'left' ? y + 7.5 : y + 30}
          textAnchor={side === 'left' ? 'end' : 'middle'}
          fontFamily={FONT}
          fontSize={21}
          fill="#111"
        >
          {payload.value.toFixed(1)}
        </text>
      )}
    </g>
  );
};

const LabelMark = (props: any) => {
  const { cx, cy, payload } = props;
  return (
    <text
      x={cx}
      y={cy}
      textAnchor="middle"
      dominantBaseline="central"
      fontFamily={FONT}
      fontSize={payload.size}
      fill={payload.color}
    >
      {payload.text}
    </text>
  );
};

const noPoint = () => null;
const axisLine = { stroke: '#000', strokeWidth: 2.6 };

export default function App() {
  return (
    <div style={{ position: 'absolute', left: 0, top: 0, background: '#fff' }}>
      <ScatterChart width={854} height={727} margin={{ top: 15, right: 6, bottom: 0, left: 0 }}>
        <XAxis
          type="number"
          dataKey="x"
          domain={[7.46, 10.2]}
          reversed
          allowDataOverflow
          ticks={xTicks}
          interval={0}
          height={95.5}
          tickSize={0}
          tickMargin={0}
          tickLine={false}
          axisLine={axisLine}
          tick={tickMark('bottom', true)}
          label={{ value: '¹H (ppm)', position: 'insideBottom', offset: 8, fontFamily: FONT, fontSize: 22.5, fill: '#111' }}
        />
        <XAxis
          xAxisId="top"
          orientation="top"
          type="number"
          domain={[7.46, 10.2]}
          reversed
          allowDataOverflow
          ticks={xTicks}
          interval={0}
          height={1}
          tickSize={0}
          tickMargin={0}
          tickLine={false}
          axisLine={axisLine}
          tick={tickMark('top', false)}
        />
        <YAxis
          type="number"
          dataKey="y"
          domain={[5.9, 8.2]}
          reversed
          allowDataOverflow
          ticks={yTicks}
          interval={0}
          width={116}
          tickSize={0}
          tickMargin={0}
          tickLine={false}
          axisLine={axisLine}
          tick={tickMark('left', true)}
          label={{ value: '¹H (ppm)', angle: -90, position: 'insideLeft', offset: 28, fontFamily: FONT, fontSize: 22.5, fill: '#111', style: { textAnchor: 'middle' } }}
        />
        <YAxis
          yAxisId="right"
          orientation="right"
          type="number"
          domain={[5.9, 8.2]}
          reversed
          allowDataOverflow
          ticks={yTicks}
          interval={0}
          width={1}
          tickSize={0}
          tickMargin={0}
          tickLine={false}
          axisLine={axisLine}
          tick={tickMark('right', false)}
        />
        {contours.map((c, i) => (
          <Scatter
            key={i}
            data={c.pts.map(([x, y]) => ({ x, y }))}
            line={{ stroke: c.color, strokeWidth: c.width }}
            lineType="joint"
            lineJointType="basisClosed"
            shape={noPoint}
            isAnimationActive={false}
            legendType="none"
          />
        ))}
        {dashedLinks.map(([x1, y1, x2, y2], i) => (
          <ReferenceLine
            key={`d${i}`}
            segment={[{ x: x1, y: y1 }, { x: x2, y: y2 }]}
            stroke="#222"
            strokeWidth={1.2}
            strokeDasharray="5 3"
          />
        ))}
        {leaders.map(([x1, y1, x2, y2], i) => (
          <ReferenceLine
            key={`l${i}`}
            segment={[{ x: x1, y: y1 }, { x: x2, y: y2 }]}
            stroke="#222"
            strokeWidth={1.2}
          />
        ))}
        <Scatter data={labels} shape={LabelMark} isAnimationActive={false} legendType="none" />
      </ScatterChart>
    </div>
  );
}
